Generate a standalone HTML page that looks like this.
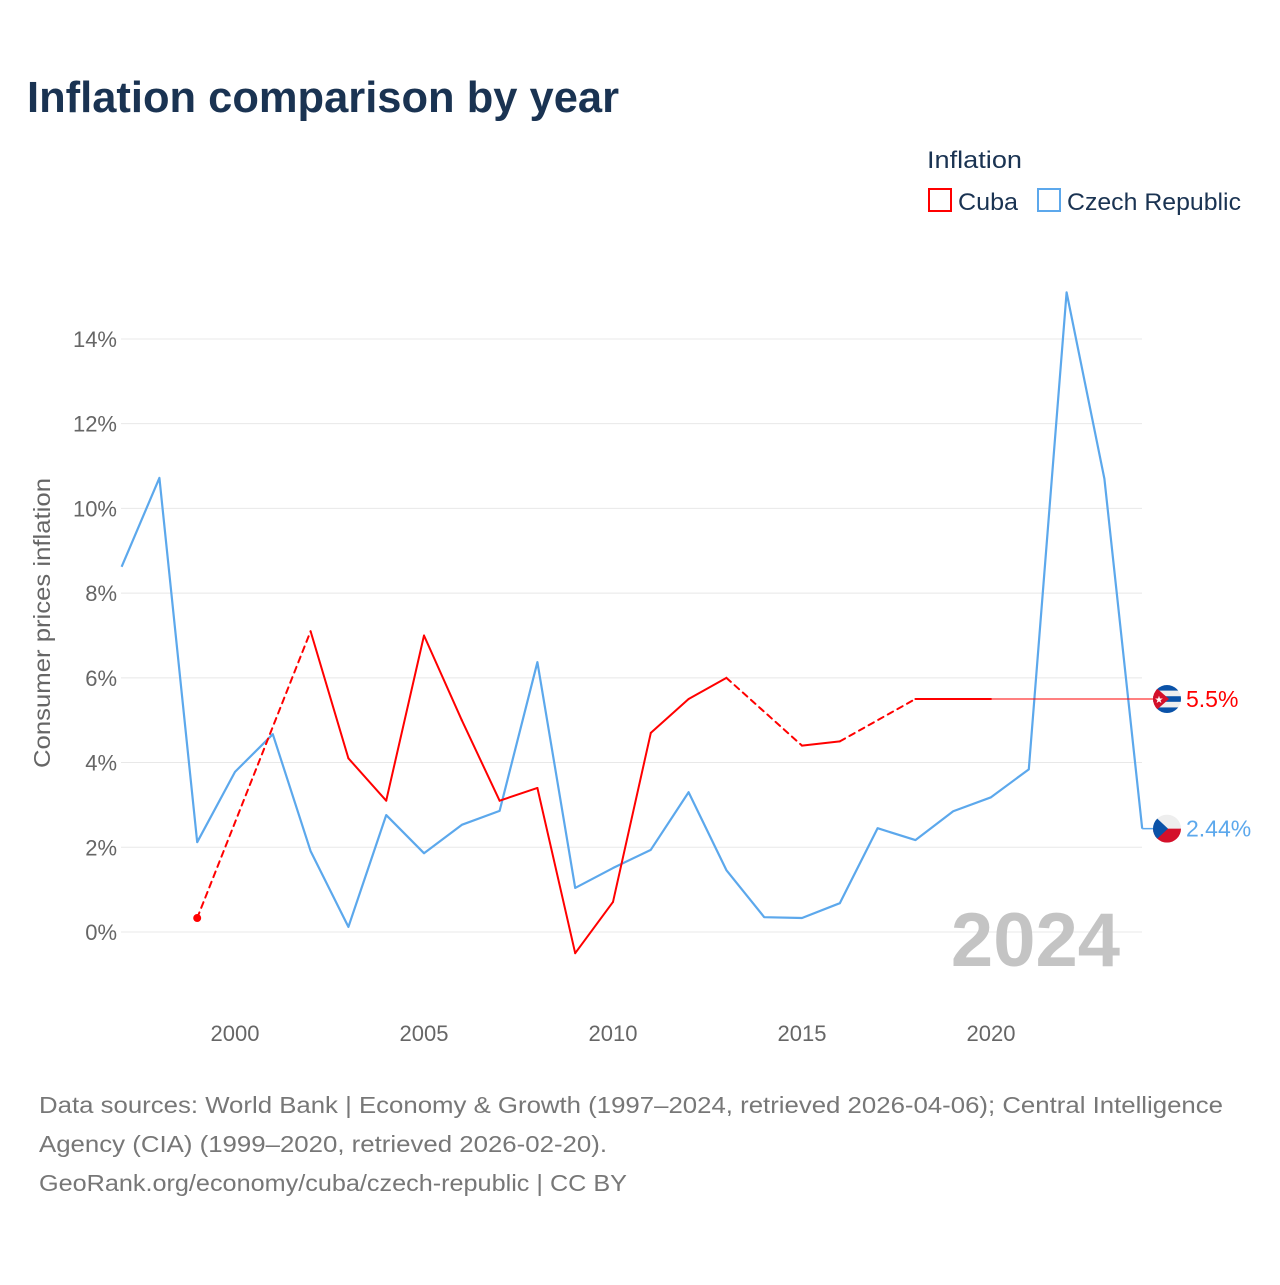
<!DOCTYPE html>
<html><head><meta charset="utf-8">
<style>
html,body{margin:0;padding:0;background:#fff;}
svg text{font-family:"Liberation Sans",sans-serif;}
</style></head>
<body>
<svg id="chart" width="1280" height="1280" xmlns="http://www.w3.org/2000/svg">
<text x="27" y="112" font-size="44" font-weight="bold" fill="#1a3352" textLength="592" lengthAdjust="spacingAndGlyphs">Inflation comparison by year</text>
<g>
<text x="927" y="168" font-size="24" fill="#1a3352" textLength="95" lengthAdjust="spacingAndGlyphs">Inflation</text>
<rect x="929" y="189" width="22" height="22" fill="none" stroke="#ff0000" stroke-width="2"/>
<text x="958" y="210" font-size="24" fill="#1a3352" textLength="60" lengthAdjust="spacingAndGlyphs">Cuba</text>
<rect x="1038" y="189" width="22" height="22" fill="none" stroke="#5ca8ec" stroke-width="2"/>
<text x="1067" y="210" font-size="24" fill="#1a3352" textLength="174" lengthAdjust="spacingAndGlyphs">Czech Republic</text>
</g>
<text transform="translate(50,768) rotate(-90)" font-size="23" fill="#666" textLength="290" lengthAdjust="spacingAndGlyphs">Consumer prices inflation</text>
<g id="grid"></g>
<g id="xticks"></g>
<text x="1120" y="966" font-size="76" font-weight="bold" fill="#c4c4c4" text-anchor="end">2024</text>
<g id="series"></g>
<g font-size="23" fill="#777">
<text x="39" y="1113" textLength="1184" lengthAdjust="spacingAndGlyphs">Data sources: World Bank | Economy &amp; Growth (1997–2024, retrieved 2026-04-06); Central Intelligence</text>
<text x="39" y="1152" textLength="568" lengthAdjust="spacingAndGlyphs">Agency (CIA) (1999–2020, retrieved 2026-02-20).</text>
<text x="39" y="1191" textLength="588" lengthAdjust="spacingAndGlyphs">GeoRank.org/economy/cuba/czech-republic | CC BY</text>
</g>
</svg>
<script>
const years = [1997,1998,1999,2000,2001,2002,2003,2004,2005,2006,2007,2008,2009,2010,2011,2012,2013,2014,2015,2016,2017,2018,2019,2020,2021,2022,2023,2024];
const czechValues = [8.62,10.72,2.12,3.78,4.67,1.91,0.12,2.76,1.86,2.53,2.86,6.37,1.04,1.51,1.94,3.30,1.46,0.35,0.33,0.68,2.45,2.17,2.85,3.18,3.84,15.1,10.7,2.44];
const cubaValues = [null,null,0.33,null,null,7.1,4.1,3.1,7.0,5.0,3.1,3.4,-0.5,0.71,4.7,5.5,6.0,null,4.4,4.5,null,5.5,5.5,5.5,null,null,null,null];
const yTicks = [0,2,4,6,8,10,12,14];
const xTicks = [2000,2005,2010,2015,2020];
const cubaLatest = 5.5;
const czechLatest = 2.44;

const NS = "http://www.w3.org/2000/svg";
const X = yr => 121.6 + (yr - 1997) * 37.8;
const Y = v => 932 - v * 42.36;
function mk(tag, attrs, parent){const e=document.createElementNS(NS,tag);for(const k in attrs)e.setAttribute(k,attrs[k]);parent.appendChild(e);return e;}

const grid = document.getElementById('grid');
yTicks.forEach(t=>{
  const l = mk('line',{x1:121,x2:1142,y1:Y(t),y2:Y(t),stroke:'#e8e8e8','stroke-width':1},grid);
  
  
  const tx = mk('text',{x:117,y:Y(t)+8,'font-size':22,fill:'#666','text-anchor':'end'},grid);
  tx.textContent = t + '%';
  
  
});
const xg = document.getElementById('xticks');
xTicks.forEach(t=>{
  const tx = mk('text',{x:X(t),y:1041,'font-size':22,fill:'#666','text-anchor':'middle'},xg);
  tx.textContent = t;
  
  
});

const sg = document.getElementById('series');
const czPts = years.map((y,i)=>X(y)+','+Y(czechValues[i])).join(' ');
const cz = mk('polyline',{points:czPts,fill:'none',stroke:'#5ca8ec','stroke-width':2.2,'stroke-linejoin':'round'},sg);


const czExt = mk('line',{x1:X(2024),y1:Y(czechLatest),x2:1158,y2:Y(czechLatest),stroke:'#5ca8ec','stroke-width':1.5},sg);



let prev = -1;
years.forEach((y,i)=>{
  if(cubaValues[i]===null) return;
  if(prev>=0){
    const dashed = (i - prev) > 1;
    const seg = mk('line',{x1:X(years[prev]),y1:Y(cubaValues[prev]),x2:X(y),y2:Y(cubaValues[i]),stroke:'#ff0000','stroke-width':2,'stroke-linecap':'round'},sg);
    if(dashed) seg.setAttribute('stroke-dasharray','6 5');
    
    
  } else {
    const dot = mk('circle',{cx:X(y),cy:Y(cubaValues[i]),r:4,fill:'#ff0000'},sg);
    
    
  }
  prev = i;
});
const cuExt = mk('line',{x1:X(years[prev]),y1:Y(cubaLatest),x2:1158,y2:Y(cubaLatest),stroke:'#ff0000','stroke-width':1},sg);



function flag(cy, kind){
  const cx = 1167, r = 14;
  const g = mk('g',{},sg);
  
  
  const id = 'clip-'+kind;
  const cp = mk('clipPath',{id:id},g); mk('circle',{cx:cx,cy:cy,r:r},cp);
  const inner = mk('g',{'clip-path':'url(#'+id+')'},g);
  if(kind==='cuba'){
    mk('rect',{x:cx-r,y:cy-r,width:2*r,height:2*r,fill:'#eee'},inner);
    for(let k=0;k<3;k++) mk('rect',{x:cx-r,y:cy-r+k*2*r*2/5,width:2*r,height:2*r/5,fill:'#0a52a8'},inner);
    mk('polygon',{points:(cx-r)+','+(cy-r)+' '+(cx-r)+','+(cy+r)+' '+(cx+2)+','+cy,fill:'#d4102a'},inner);
    const s = mk('text',{x:cx-8,y:cy+4,'font-size':10,fill:'#fff','text-anchor':'middle'},inner); s.textContent='★';
  } else {
    mk('rect',{x:cx-r,y:cy-r,width:2*r,height:r,fill:'#eee'},inner);
    mk('rect',{x:cx-r,y:cy,width:2*r,height:r,fill:'#d4102a'},inner);
    mk('polygon',{points:(cx-r)+','+(cy-r)+' '+(cx-r)+','+(cy+r)+' '+(cx+1)+','+cy,fill:'#0a52a8'},inner);
  }
}
flag(Y(cubaLatest),'cuba');
flag(Y(czechLatest),'czech');
const cl = mk('text',{x:1186,y:Y(cubaLatest)+8,'font-size':23,fill:'#ff0000'},sg);
cl.textContent = cubaLatest + '%';


const zl = mk('text',{x:1186,y:Y(czechLatest)+8,'font-size':23,fill:'#5ca8ec'},sg);
zl.textContent = czechLatest + '%';


</script>
</body></html>
